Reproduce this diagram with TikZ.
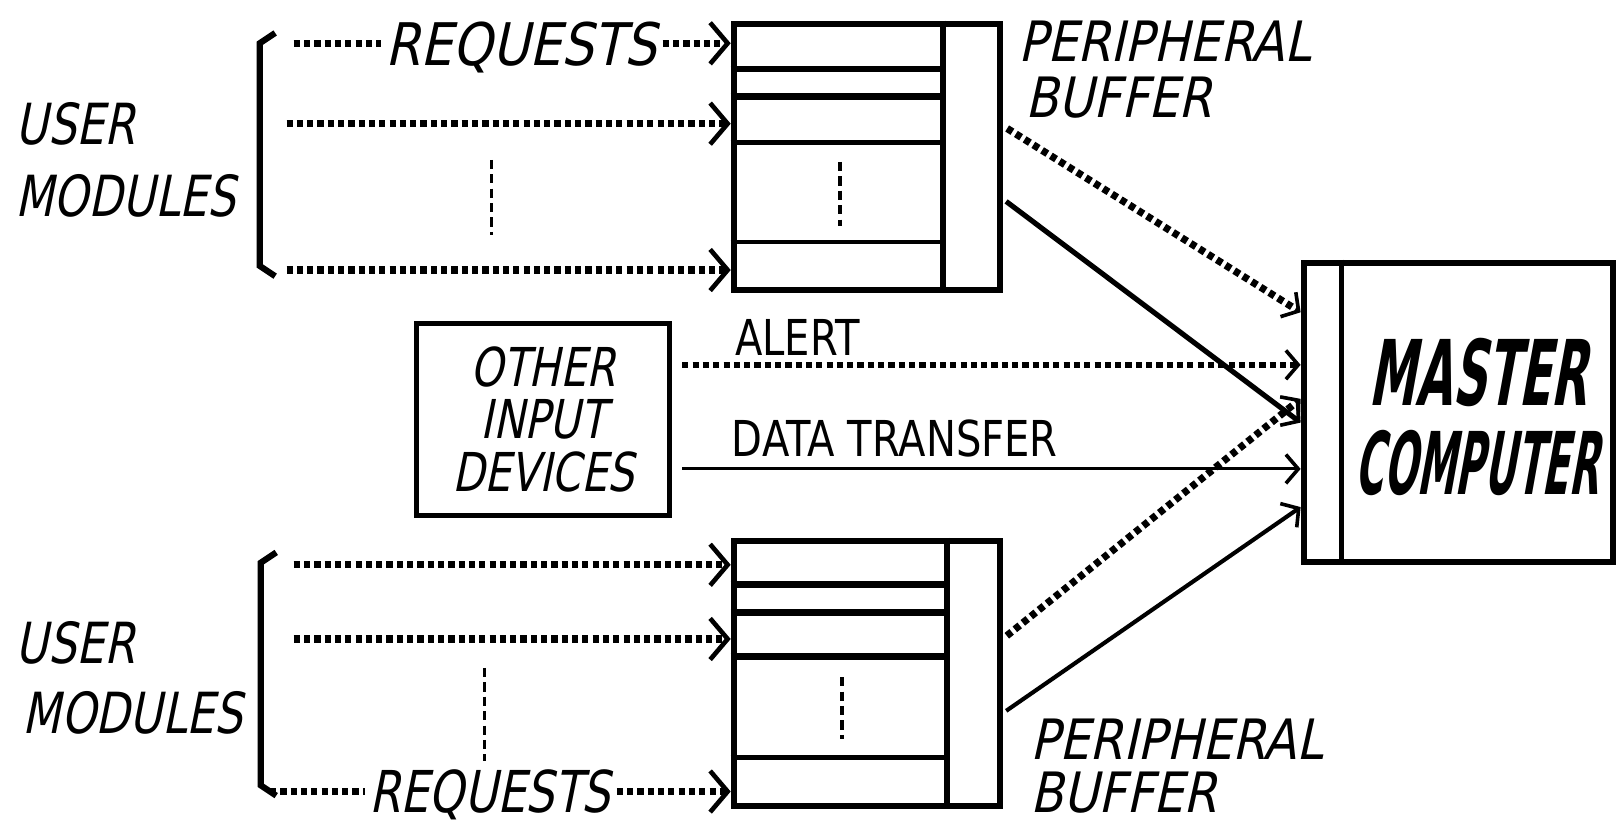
\documentclass[tikz,border=0pt]{standalone}
\usepackage{fontspec}
\usetikzlibrary{arrows.meta,calc}
% hand-lettered look: slanted, condensed sans
\newfontfamily\handfont[FakeSlant=0.2,FakeStretch=0.78]{DejaVu Sans}
\newfontfamily\handwide[FakeSlant=0.22,FakeStretch=0.86]{DejaVu Sans}
\newfontfamily\masterfont[FakeSlant=0.18,FakeStretch=0.52]{DejaVu Sans}
\newfontfamily\computerfont[FakeSlant=0.18,FakeStretch=0.45]{DejaVu Sans}
\newfontfamily\plainfont[FakeStretch=0.81]{DejaVu Sans}
\begin{document}
\begin{tikzpicture}[x=1pt,y=-1pt,
  box/.style={draw,line width=6pt,inner sep=0pt},
  lbl/.style={inner sep=0pt,anchor=base west,text depth=0pt},
  bigtxt/.style={lbl,font=\handfont\fontsize{55}{60}\selectfont},
  widetxt/.style={lbl,font=\handwide\fontsize{54}{60}\selectfont},
  reqtxt/.style={lbl,font=\handwide\fontsize{57}{60}\selectfont},
  reqtxtb/.style={lbl,font=\handfont\fontsize{56}{60}\selectfont},
  linetxt/.style={lbl,font=\plainfont\fontsize{48}{50}\selectfont},
  dotline/.style={line width=7pt,dash pattern=on 6pt off 4pt},
  dotthin/.style={line width=6pt,dash pattern=on 6pt off 4pt},
  tip/.style={-{Straight Barb[length=17pt,width=40pt,line width=4.5pt]}},
  smalltip/.style={-{Straight Barb[length=12pt,width=28pt,line width=3.5pt]}},
  vdash/.style={line width=3pt,dash pattern=on 9pt off 5pt},
  bracket/.style={line width=6pt,miter limit=10}
]
\useasboundingbox (0,0) rectangle (1568,801);

% ---------- boxes ----------
\node[box,minimum width=258pt,minimum height=258pt] (bufT) at (841,152) {};
\node[box,minimum width=258pt,minimum height=257pt] (bufB) at (841,653.5) {};
\node[box,minimum width=300pt,minimum height=290pt] (mc) at (1415,400) {};
\node[box,line width=5pt,minimum width=245pt,minimum height=186pt,
      font=\handfont\fontsize{52}{51}\selectfont,align=center] (oid) at (527,407)
      {OTHER\\INPUT\\DEVICES};

% inner structure of the upper buffer
\draw[line width=6pt] ($(bufT.north west)+(206,0)$) -- ($(bufT.south west)+(206,0)$);
\draw[line width=5pt] ($(bufT.north west)+(0,47)$)  -- ++(206,0);
\draw[line width=7pt] ($(bufT.north west)+(0,74)$)  -- ++(206,0);
\draw[line width=5pt] ($(bufT.north west)+(0,118)$) -- ++(206,0);
\draw[line width=4pt] ($(bufT.north west)+(0,215)$) -- ++(206,0);
\draw[vdash] ($(bufT.north west)+(106,137)$) -- ++(0,62);

% inner structure of the lower buffer
\draw[line width=6pt] ($(bufB.north west)+(210,0)$) -- ($(bufB.south west)+(210,0)$);
\draw[line width=7pt] ($(bufB.north west)+(0,45)$)  -- ++(210,0);
\draw[line width=7pt] ($(bufB.north west)+(0,72)$)  -- ++(210,0);
\draw[line width=6pt] ($(bufB.north west)+(0,115)$) -- ++(210,0);
\draw[line width=5pt] ($(bufB.north west)+(0,213)$) -- ++(210,0);
\draw[vdash] ($(bufB.north west)+(108,135)$) -- ++(0,60);

% master computer divider and title
\draw[line width=5pt] ($(mc.north west)+(40,0)$) -- ($(mc.south west)+(40,0)$);
\node[lbl,font=\masterfont\bfseries\fontsize{88}{90}\selectfont] (mcA) at (1328,393) {MASTER};
\node[lbl,font=\computerfont\bfseries\fontsize{84}{90}\selectfont] (mcB) at (1314,480) {COMPUTER};

% ---------- user module groups ----------
\node[bigtxt] (umTa) at (15,140) {USER};
\node[bigtxt] (umTb) at (15,210) {MODULES};
\node[bigtxt] (umBa) at (15,644) {USER};
\node[bigtxt] (umBb) at (22,712) {MODULES};

\draw[bracket] (267,32) -- (252,42) -- (252,258) -- (267,268);
\draw[bracket] (268,536) -- (253,546) -- (253,762) -- (268,772);

% ---------- peripheral buffer labels ----------
\node[widetxt] (pbTa) at (988,60) {PERIPHERAL};
\node[widetxt] (pbTb) at (995,114) {BUFFER};
\node[widetxt] (pbBa) at (1000,737) {PERIPHERAL};
\node[widetxt] (pbBb) at (1000,788) {BUFFER};

% ---------- request lines, upper group ----------
\coordinate (t1) at (285,42);
\coordinate (t2) at (278,120);
\coordinate (t3) at (278,262);
\node[reqtxt] (reqT) at (374,64) {REQUESTS};
\draw[dotline] (t1) -- ([xshift=-4pt]reqT.west |- t1);
\draw[dotline,tip] ([xshift=6pt]reqT.east |- t1) -- (bufT.west |- t1);
\draw[dotline,tip] (t2) -- (bufT.west |- t2);
\draw[dotline,tip] (t3) -- (bufT.west |- t3);
\draw[vdash] (477,155) -- (477,228);

% ---------- request lines, lower group ----------
\coordinate (b1) at (285,548);
\coordinate (b2) at (285,620);
\coordinate (b3) at (262,768);
\node[reqtxtb] (reqB) at (358,788) {REQUESTS};
\draw[dotline] (b3) -- ([xshift=-4pt]reqB.west |- b3);
\draw[dotline,tip] ([xshift=6pt]reqB.east |- b3) -- (bufB.west |- b3);
\draw[dotline,tip] (b1) -- (bufB.west |- b1);
\draw[dotline,tip] (b2) -- (bufB.west |- b2);
\draw[vdash] (470,648) -- (470,738);

% ---------- other input devices to master ----------
\draw[dotthin,smalltip,shorten <=10pt] ([yshift=53pt]oid.east) -- ([yshift=46pt]mc.west);
\draw[line width=3pt,smalltip,shorten <=10pt] ([yshift=-48pt]oid.east) -- ([yshift=-55pt]mc.west);
\node[linetxt] (alertlbl) at (713,345) {ALERT};
\node[linetxt] (datalbl) at (710,443) {DATA TRANSFER};

% ---------- buffers to master ----------
\draw[dotline,smalltip,shorten <=5pt] ([yshift=30pt]bufT.east) -- ([yshift=97pt]mc.west);
\draw[line width=5pt,smalltip,shorten <=4pt] ([yshift=-41pt]bufT.east) -- ([yshift=-10pt]mc.west);
\draw[dotline,smalltip,shorten <=5pt] ([yshift=33.5pt]bufB.east) -- ([yshift=13pt]mc.west);
\draw[line width=4pt,smalltip,shorten <=4pt] ([yshift=-38.5pt]bufB.east) -- ([yshift=-92pt]mc.west);
\end{tikzpicture}
\end{document}
